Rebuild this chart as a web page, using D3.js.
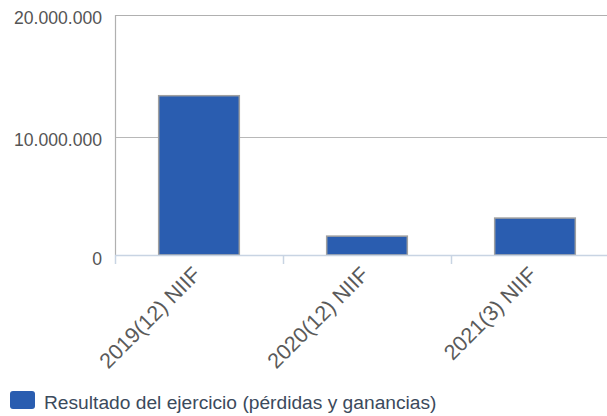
<!DOCTYPE html>
<html><head><meta charset="utf-8">
<script src="https://cdn.jsdelivr.net/npm/d3@7"></script>
<style>body{margin:0;background:#fff}svg{display:block;font-family:"Liberation Sans",Arial,sans-serif}</style>
</head><body><svg id="c" width="607" height="416"></svg>
<script>
const categories = ["2019(12) NIIF", "2020(12) NIIF", "2021(3) NIIF"];
const values = [13500000, 1600000, 3130000];
const yTicks = [0, 10000000, 20000000];
const seriesName = "Resultado del ejercicio (pérdidas y ganancias)";

const svg = d3.select("#c");
const L = 115, R = 619, T = 15, B = 255;
const x = d3.scaleBand().domain(categories).range([L, R]).paddingInner(0.52).paddingOuter(0.26);
const xb = d3.scaleBand().domain(categories).range([L, R]);
const y = d3.scaleLinear().domain([0, 20000000]).range([B, 19]);
const fmt = v => d3.format(",")(v).replace(/,/g, ".");

// top frame line + gridlines
svg.append("line").attr("x1", L).attr("x2", 607).attr("y1", T + 0.5).attr("y2", T + 0.5)
  .attr("stroke", "#b0b0b0").attr("stroke-width", 1.2);
svg.append("g").selectAll("line").data(yTicks.filter(d => d > 0 && d < 20000000)).join("line")
  .attr("x1", L).attr("x2", 607).attr("y1", d => y(d) + 0.5).attr("y2", d => y(d) + 0.5)
  .attr("stroke", "#b8b8b8").attr("stroke-width", 1.2);
// left axis line
svg.append("line").attr("x1", L + 0.5).attr("x2", L + 0.5).attr("y1", T).attr("y2", B)
  .attr("stroke", "#b0b0b0").attr("stroke-width", 1.2);
// y labels
const labY = [265, 146, 24];
svg.append("g").selectAll("text").data(yTicks).join("text")
  .attr("x", 102).attr("y", (d, i) => labY[i]).attr("text-anchor", "end")
  .attr("font-size", 17.6).attr("fill", "#555").text(fmt);

// bars
svg.append("g").selectAll("rect").data(values).join("rect")
  .attr("x", (d, i) => x(categories[i])).attr("width", x.bandwidth())
  .attr("y", d => y(d)).attr("height", d => B - y(d))
  .attr("fill", "#2a5db0").attr("stroke", "#a0a0a0").attr("stroke-width", 1.5);

// x axis
svg.append("line").attr("x1", L).attr("x2", 607).attr("y1", B + 0.5).attr("y2", B + 0.5)
  .attr("stroke", "#c8d4e3").attr("stroke-width", 1.5);
svg.append("g").selectAll("line").data(categories).join("line")
  .attr("x1", d => xb(d) + 0.5).attr("x2", d => xb(d) + 0.5).attr("y1", B).attr("y2", B + 9)
  .attr("stroke", "#c8d4e3").attr("stroke-width", 1.5);
svg.append("g").selectAll("text").data(categories).join("text")
  .attr("transform", d => `translate(${xb(d) + xb.bandwidth() / 2 + 3},${B + 21}) rotate(-45)`)
  .attr("text-anchor", "end").attr("font-size", 21.5).attr("fill", "#5a5a5a").text(d => d);

// legend
svg.append("rect").attr("x", 10).attr("y", 391).attr("width", 25).attr("height", 18).attr("rx", 3)
  .attr("fill", "#2a5db0");
svg.append("text").attr("x", 44).attr("y", 409).attr("font-size", 19.2).attr("fill", "#3b4a5c").text(seriesName);
</script></body></html>
